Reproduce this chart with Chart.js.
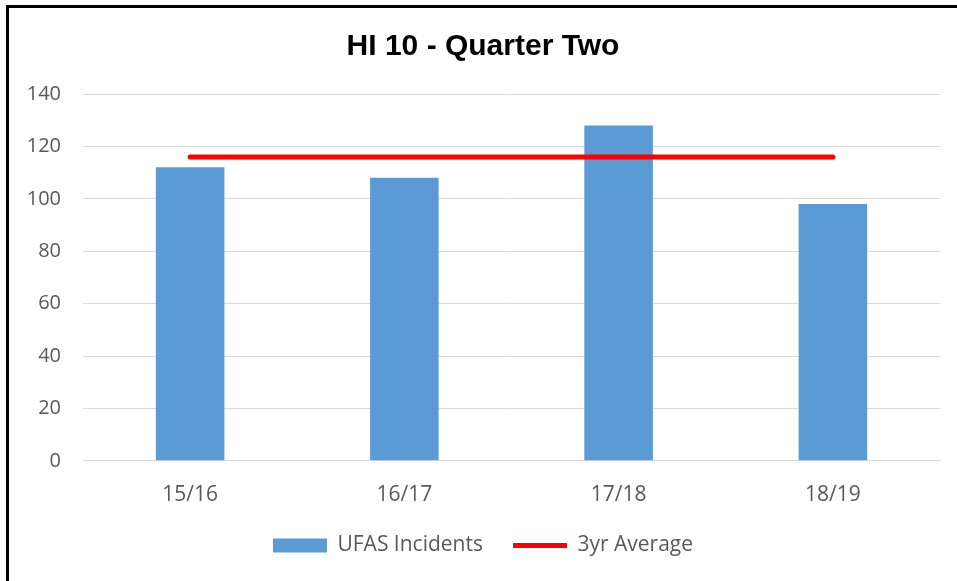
<!DOCTYPE html>
<html>
<head>
<meta charset="utf-8">
<script src="https://cdn.jsdelivr.net/npm/chart.js@4"></script>
<style>
  html, body { margin: 0; padding: 0; background: #fff; }
  #wrap { position: absolute; left: 0; top: 0; width: 957px; height: 581px; }
  #frame { position: absolute; left: 6px; top: 5px; width: 960px; height: 590px;
           border-left: 3px solid #000; border-top: 3px solid #000; pointer-events: none; }
</style>
</head>
<body>
<div id="wrap"><canvas id="grafico"></canvas></div>
<div id="frame"></div>
<script>
// Dados
const categorias = ['15/16', '16/17', '17/18', '18/19'];
const incidentes = [112, 108, 128, 98];
const media3anos = [116, 116, 116, 116];

const corTexto = '#595959';
const fonteTexto = { family: 'Open Sans', size: 20 };

// a legenda reserva menos altura, mas o texto fica no mesmo lugar
const REDUCAO_LEGENDA = 17;
const ajusteLegenda = {
    id: 'ajusteLegenda',
    afterInit(chart) {
        const fitOriginal = chart.legend.fit;
        chart.legend.fit = function () {
            fitOriginal.call(this);
            this.height -= REDUCAO_LEGENDA;
        };
    },
    afterLayout(chart) {
        chart.legend.top -= REDUCAO_LEGENDA;
    }
};

const ctx = document.getElementById('grafico').getContext('2d');
const grafico = new Chart(ctx, {
    type: 'bar',
    data: {
        labels: categorias,
        datasets: [{
            type: 'line',
            label: '3yr Average',
            data: media3anos,
            borderColor: '#ff0000',
            backgroundColor: '#ff0000',
            borderWidth: 5,
            borderCapStyle: 'round',
            pointRadius: 0,
            pointStyle: 'line',
            order: 0
        }, {
            label: 'UFAS Incidents',
            data: incidentes,
            backgroundColor: '#5b9bd5',
            borderWidth: 0,
            pointStyle: 'rect',
            barPercentage: 0.32,
            categoryPercentage: 1,
            order: 1
        }]
    },
    options: {
        responsive: true,
        maintainAspectRatio: false,
        animation: false,
        layout: {
            padding: { left: 26, right: 17, top: 29, bottom: 15 }
        },
        plugins: {
            title: {
                display: true,
                text: 'HI 10 - Quarter Two',
                color: '#000',
                font: { family: 'Liberation Sans', size: 30, weight: 'bold' },
                padding: { top: 0, bottom: 29 }
            },
            legend: {
                position: 'bottom',
                reverse: true,
                labels: {
                    usePointStyle: true,
                    pointStyleWidth: 54,
                    boxHeight: 14,
                    padding: 30,
                    color: corTexto,
                    font: { family: 'Open Sans', size: 21 }
                }
            },
            tooltip: { enabled: false }
        },
        scales: {
            x: {
                grid: { display: false },
                border: { color: '#d9d9d9' },
                ticks: { color: corTexto, font: { family: 'Open Sans', size: 21 }, padding: 14 }
            },
            y: {
                min: 0,
                max: 140,
                ticks: { stepSize: 20, color: corTexto, font: fonteTexto, padding: 22 },
                grid: { color: '#d9d9d9', drawTicks: false },
                border: { display: false },
                afterFit: (escala) => { escala.width = 57; }
            }
        }
    },
    plugins: [ajusteLegenda]
});
</script>
</body>
</html>
